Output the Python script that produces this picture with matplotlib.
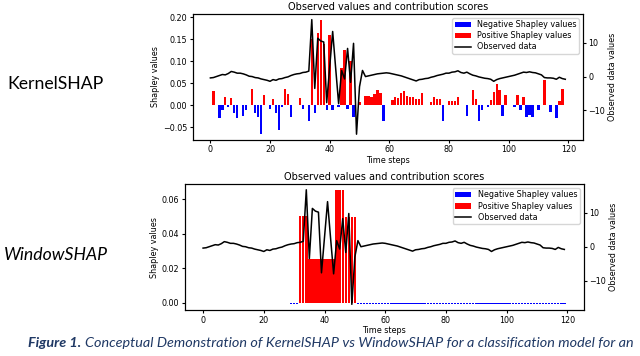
import numpy as np
import matplotlib.pyplot as plt

steps = np.arange(120)

# KernelSHAP contribution per time step
kernel_shap = [
    0.0, 0.033, 0.0, -0.030, -0.012, 0.019, -0.004, 0.016, -0.018, -0.029,
    0.0, -0.024, -0.012, 0.0, 0.036, -0.018, -0.026, -0.066, 0.023, 0.0,
    -0.009, 0.015, -0.018, -0.057, -0.003, 0.038, 0.026, -0.027, 0.0, 0.0,
    0.017, -0.008, 0.0, -0.036, 0.150, -0.018, 0.165, 0.195, 0.140, -0.012,
    0.160, -0.010, 0.0, -0.004, 0.085, 0.125, -0.008, 0.100, -0.028, 0.0,
    0.008, 0.0, 0.020, 0.022, 0.018, 0.026, 0.035, 0.027, -0.036, 0.0,
    0.0, 0.012, 0.018, 0.016, 0.027, 0.033, 0.022, 0.018, 0.019, 0.015,
    0.014, 0.027, 0.0, 0.0, 0.008, 0.018, 0.014, 0.015, -0.036, 0.0,
    0.010, 0.010, 0.010, 0.019, 0.0, 0.0, -0.024, 0.0, 0.035, 0.014,
    -0.035, -0.012, 0.0, -0.005, 0.012, 0.029, 0.049, 0.035, -0.025, 0.023,
    0.0, 0.0, -0.005, 0.023, -0.012, 0.019, -0.028, -0.022, -0.027, 0.0,
    -0.012, 0.0, 0.057, 0.0, -0.016, 0.0, -0.029, 0.009, 0.036, 0.0,
]

# WindowSHAP contribution per time step (bottom panel)
window_shap = [
    0.0, 0.0, 0.0, 0.0, 0.0, 0.0, 0.0, 0.0, 0.0, 0.0,
    0.0, 0.0, 0.0, 0.0, 0.0, 0.0, 0.0, 0.0, 0.0, 0.0,
    0.0, 0.0, 0.0, 0.0, 0.0, 0.0, 0.0, 0.0, 0.0, -0.001,
    -0.001, -0.001, 0.0505, 0.0505, 0.0505, 0.0255, 0.0255, 0.0255, 0.0255, 0.0255,
    0.0255, 0.0255, 0.0255, 0.0255, 0.0655, 0.0655, 0.0655, 0.0495, 0.0495, 0.0495,
    0.0495, -0.001, -0.001, -0.001, -0.001, -0.001, -0.001, -0.001, -0.001, -0.001,
    -0.001, -0.001, -0.001, -0.001, -0.001, -0.001, -0.001, -0.001, -0.001, -0.001,
    -0.001, -0.001, -0.001, -0.001, -0.001, -0.001, -0.001, -0.001, -0.001, -0.001,
    -0.001, -0.001, -0.001, -0.001, -0.001, -0.001, -0.001, -0.001, -0.001, -0.001,
    -0.001, -0.001, -0.001, -0.001, -0.001, -0.001, -0.001, -0.001, -0.001, -0.001,
    -0.001, -0.001, -0.001, -0.001, -0.001, -0.001, -0.001, -0.001, -0.001, -0.001,
    -0.001, -0.001, -0.001, -0.001, -0.001, -0.001, -0.001, -0.001, -0.001, -0.001,
]

# observed signal (right axis)
observed = [
    -0.4, -0.3, 0.0, 0.3, 0.6, 0.5, 0.9, 1.5, 1.3, 1.0,
    1.0, 0.8, 0.5, 0.1, 0.0, -0.3, -0.4, -0.7, -0.9, -1.1,
    -1.4, -0.9, -1.1, -0.7, -0.6, -0.3, -0.1, 0.3, 0.6, 0.8,
    0.9, 1.2, 1.3, 1.6, 16.8, -3.5, 11.3, 10.5, 10.2, -7.7,
    2.8, 13.3, 2.5, -8.0, 1.8, -0.7, 8.3, -1.7, 9.8, -17.0,
    -3.0, 1.8, 0.0, 0.2, 0.4, 0.6, 0.8, 0.9, 1.0, 1.1,
    1.0, 0.8, 0.6, 0.4, 0.2, -0.1, -0.4, -0.7, -1.0, -1.3,
    -0.9, -0.8, -0.6, -0.5, -0.2, 0.0, 0.3, 0.5, 0.7, 1.0,
    1.0, 1.3, 1.4, 1.7, 1.2, 1.0, 1.3, 0.8, 0.4, 0.2,
    -0.1, -0.3, -0.5, -0.6, -0.8, -1.4, -0.9, -0.6, -0.4, -0.2,
    0.0, 0.2, 0.4, 0.7, 1.0, 1.3, 1.2, 1.4, 1.2, 1.1,
    0.8, 0.5, -0.3, -0.4, -0.4, -0.5, -0.8, -0.2, -0.6, -0.8,
]

FS = 5.8


def panel(ax, shap):
    shap = np.array(shap)
    neg = shap < 0
    pos = shap > 0
    ax.bar(steps[neg], shap[neg], color="blue", label="Negative Shapley values")
    ax.bar(steps[pos], shap[pos], color="red", label="Positive Shapley values")
    ax.set_xlabel("Time steps", fontsize=FS, labelpad=1)
    ax.set_ylabel("Shapley values", fontsize=FS, labelpad=2)
    ax.set_title("Observed values and contribution scores", fontsize=7, pad=3)
    ax.tick_params(labelsize=FS, length=2.5, pad=1.5)
    ax2 = ax.twinx()
    ax2.plot(steps, observed, color="black", lw=1.1, label="Observed data")
    ax2.set_ylabel("Observed data values", fontsize=FS, labelpad=2)
    ax2.set_yticks([-10, 0, 10])
    ax2.tick_params(labelsize=FS, length=2.5, pad=1.5)
    h1, l1 = ax.get_legend_handles_labels()
    h2, l2 = ax2.get_legend_handles_labels()
    ax2.legend(h1 + h2, l1 + l2, loc="upper right", fontsize=FS,
               handlelength=2.0, borderpad=0.3, labelspacing=0.25)
    return ax2


fig = plt.figure(figsize=(6.4, 3.56), dpi=100)

ax_top = fig.add_axes([0.301, 0.607, 0.610, 0.354])
panel(ax_top, kernel_shap)
ax_top.set_yticks([-0.05, 0.0, 0.05, 0.10, 0.15, 0.20])

ax_bot = fig.add_axes([0.289, 0.129, 0.623, 0.354])
panel(ax_bot, window_shap)
ax_bot.set_yticks([0.0, 0.02, 0.04, 0.06])

# method names on the left
fig.text(0.086, 0.764, "KernelSHAP", fontsize=12.7, family="Lato", ha="center", va="center")
fig.text(0.088, 0.285, "WindowSHAP", fontsize=12.7, family="Lato", style="italic",
         ha="center", va="center")

# caption
navy = "#1F3864"
cap1 = fig.text(0.044, 0.025, "Figure 1.", fontsize=10.4, family="Lato", style="italic",
                weight="bold", color=navy, va="baseline")
fig.canvas.draw()
bb = cap1.get_window_extent()
x_next = bb.x1 / fig.bbox.width + 0.006
fig.text(x_next, 0.025, "Conceptual Demonstration of KernelSHAP vs WindowSHAP for a classification model for an",
         fontsize=10.4, family="Lato", style="italic", color=navy, va="baseline")

fig.savefig("out.png", dpi=100)
